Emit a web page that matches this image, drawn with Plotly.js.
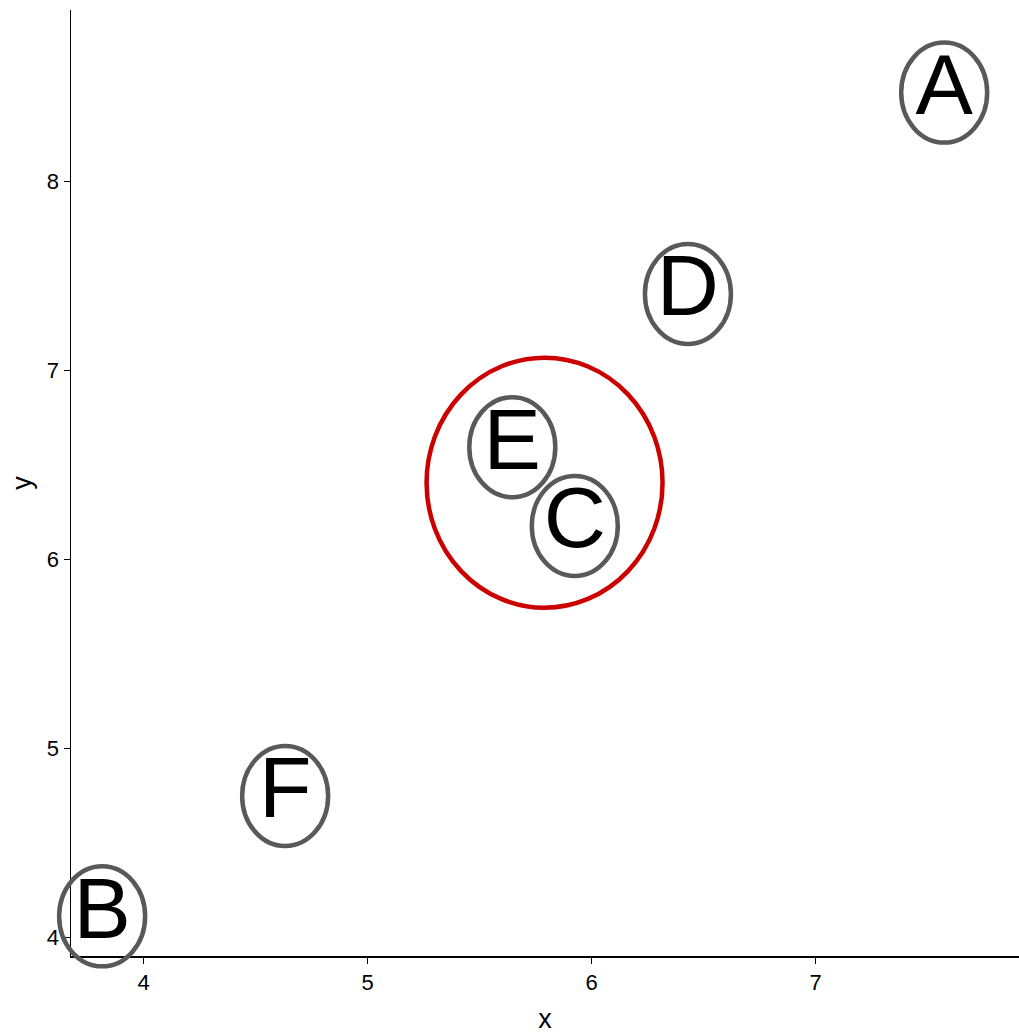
<!DOCTYPE html>
<html>
<head>
<meta charset="utf-8">
<script src="https://cdn.plot.ly/plotly-3.0.1.min.js"></script>
<style>
  html, body { margin: 0; padding: 0; background: #fff; }
  #plot { width: 1019px; height: 1034px; }
</style>
</head>
<body>
<div id="plot"></div>
<script>
// labelled points
let labels = ["A", "B", "C", "D", "E", "F"];
let x_vals = [7.574, 3.815, 5.925, 6.430, 5.646, 4.632];
let y_vals = [8.471, 4.111, 6.177, 7.405, 6.594, 4.748];

// highlighted group (E and C)
let group_center = [5.790, 6.406];

let x_range = [3.676, 7.908];
let y_range = [3.901, 8.908];
let x_ticks = [4, 5, 6, 7];
let y_ticks = [4, 5, 6, 7, 8];

let font_family = "Liberation Sans, Arial, sans-serif";

let trace = {
  x: x_vals,
  y: y_vals,
  text: labels,
  mode: "text",
  type: "scatter",
  textposition: "middle center",
  textfont: { family: font_family, size: 86, color: "#000000" },
  cliponaxis: false,
  hoverinfo: "skip",
  showlegend: false,
};

// grey ellipse round every label (domain refs so they are not clipped)
let shapes = [];
for (let i = 0; i < labels.length; i++) {
  shapes.push({
    type: "circle",
    xref: "x domain",
    yref: "y domain",
    xsizemode: "pixel",
    ysizemode: "pixel",
    xanchor: (x_vals[i] - x_range[0]) / (x_range[1] - x_range[0]),
    yanchor: (y_vals[i] - y_range[0]) / (y_range[1] - y_range[0]),
    x0: -43,
    x1: 43,
    y0: -50,
    y1: 50,
    line: { color: "#595959", width: 4.5 },
    layer: "above",
  });
}

shapes.push({
  type: "circle",
  xref: "x",
  yref: "y",
  xsizemode: "pixel",
  ysizemode: "pixel",
  xanchor: group_center[0],
  yanchor: group_center[1],
  x0: -118,
  x1: 118,
  y0: -125,
  y1: 125,
  line: { color: "#CD0000", width: 4.5 },
  layer: "above",
});

let axis_common = {
  showgrid: false,
  zeroline: false,
  showline: true,
  linecolor: "#000000",
  linewidth: 1.5,
  ticks: "outside",
  ticklen: 6,
  tickwidth: 1.5,
  tickcolor: "#000000",
  tickfont: { family: font_family, size: 22, color: "#000000" },
  automargin: false,
};

let layout = {
  width: 1019,
  height: 1034,
  margin: { l: 71, r: 0, t: 10, b: 78 },
  paper_bgcolor: "#ffffff",
  plot_bgcolor: "#ffffff",
  xaxis: Object.assign({}, axis_common, {
    range: x_range,
    tickvals: x_ticks,
    title: { text: "x", font: { family: font_family, size: 27, color: "#000000" }, standoff: 18 },
  }),
  yaxis: Object.assign({}, axis_common, {
    range: y_range,
    tickvals: y_ticks,
    title: { text: "y", font: { family: font_family, size: 27, color: "#000000" }, standoff: 7 },
  }),
  shapes: shapes,
};

Plotly.newPlot("plot", [trace], layout, { displayModeBar: false, staticPlot: true });
</script>
</body>
</html>
